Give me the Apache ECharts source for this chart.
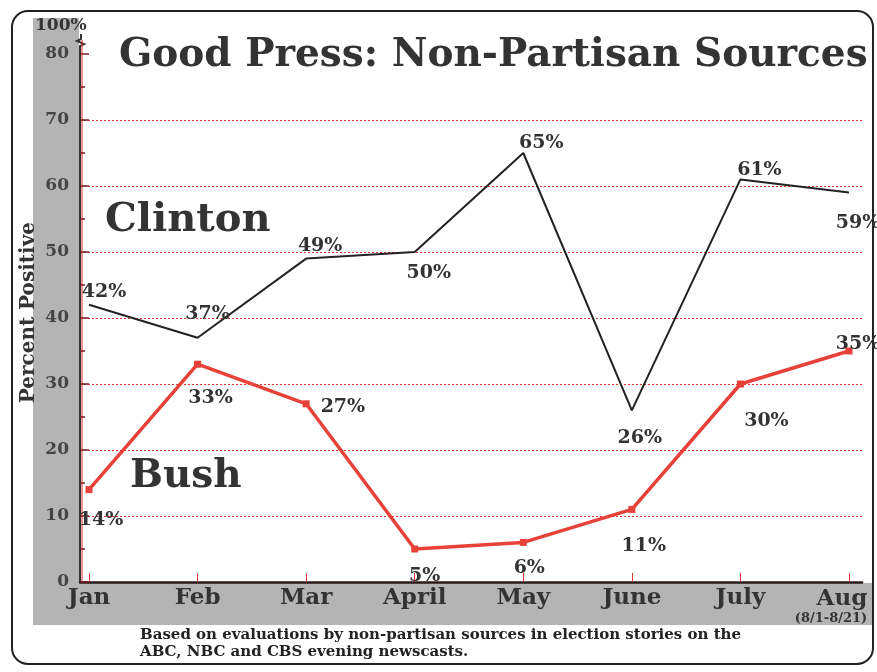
<!DOCTYPE html>
<html>
<head>
<meta charset="utf-8">
<script src="https://cdn.jsdelivr.net/npm/echarts@6/dist/echarts.min.js"></script>
<style>html,body{margin:0;padding:0;background:#fff;}#c{width:877px;height:672px;}</style>
</head>
<body>
<div id="c"></div>
<script>
var months = ['Jan', 'Feb', 'Mar', 'April', 'May', 'June', 'July', 'Aug'];
var clinton = [42, 37, 49, 50, 65, 26, 61, 59];
var bush = [14, 33, 27, 5, 6, 11, 30, 35];
var yTicks = [0, 10, 20, 30, 40, 50, 60, 70, 80];

var SERIF = '"DejaVu Serif", "Liberation Serif", serif';
var clintonLabel = [
  ['top', 15, 2], ['top', 10, -9], ['top', 14, 2], ['bottom', 14, 6],
  ['top', 18, 5], ['bottom', 8, 13], ['top', 19, 6], ['bottom', 9, 15]
];
var bushLabel = [
  ['bottom', 12, 12], ['bottom', 13, 16], ['right', 6, 3], ['bottom', 10, 9],
  ['bottom', 6, 8], ['bottom', 12, 19], ['bottom', 26, 19], ['top', 9, 11]
];
function mk(vals, pos) {
  return vals.map(function (v, i) {
    return {
      value: v,
      label: { position: pos[i][0], offset: [pos[i][1], pos[i][2]] }
    };
  });
}
var labelStyle = {
  show: true, formatter: '{c}%', fontFamily: SERIF, fontWeight: 'bold',
  fontSize: 19, color: '#333', distance: 5
};
var monthData = months.map(function (m, i) {
  return i === months.length - 1 ? { value: m, textStyle: { padding: [0, 36, 0, 0] } } : m;
});

var chart = echarts.init(document.getElementById('c'), null, { renderer: 'canvas' });
chart.setOption({
  animation: false,
  backgroundColor: '#fff',
  graphic: [
    { type: 'rect', z: -10, shape: { x: 12, y: 11, width: 861, height: 653, r: 16 },
      style: { fill: '#fff', stroke: '#222', lineWidth: 2 } },
    { type: 'rect', z: -5, shape: { x: 33, y: 18, width: 46, height: 607 },
      style: { fill: '#b4b4b4' } },
    { type: 'rect', z: -5, shape: { x: 33, y: 583, width: 839, height: 42 },
      style: { fill: '#b4b4b4' } },
    { type: 'text', left: 35, top: 17, style: { text: '100%', font: 'bold 17px ' + SERIF, fill: '#333' } },
    { type: 'polyline', shape: { points: [[80, 54], [80, 46], [84, 44], [77, 41], [81, 39], [81, 34]] },
      style: { stroke: '#333', lineWidth: 2, fill: null } },
    { type: 'line', shape: { x1: 82, y1: 582, x2: 82, y2: 40 }, style: { stroke: '#d33', lineWidth: 1 } },
    { type: 'text', left: 119, top: 36, style: { text: 'Good Press: Non-Partisan Sources', font: 'bold 39px ' + SERIF, fill: '#333' } },
    { type: 'text', left: 105, top: 201, style: { text: 'Clinton', font: 'bold 40px ' + SERIF, fill: '#333' } },
    { type: 'text', left: 130, top: 457, style: { text: 'Bush', font: 'bold 39px ' + SERIF, fill: '#333' } },
    { type: 'text', left: 19, top: 222, rotation: Math.PI / 2, style: { text: 'Percent Positive', font: 'bold 20px ' + SERIF, fill: '#333' } },
    { type: 'text', left: 140, top: 627, style: { text: 'Based on evaluations by non-partisan sources in election stories on the\nABC, NBC and CBS evening newscasts.', font: 'bold 15px ' + SERIF, fill: '#222', lineHeight: 17 } }
  ],
  grid: [
    { left: 80, right: 15, top: 54, bottom: 90 },
    { left: 89, right: 28, top: 54, bottom: 90 }
  ],
  xAxis: [
    { gridIndex: 0, type: 'value', min: 0, max: 1, axisLabel: { show: false }, axisTick: { show: false },
      splitLine: { show: false }, axisLine: { show: true, lineStyle: { color: '#2a1a1a', width: 2.5 } } },
    { gridIndex: 1, type: 'category', data: monthData, boundaryGap: false,
      axisLine: { show: false },
      axisTick: { show: true, inside: true, length: 9, interval: 0, lineStyle: { color: '#d33', width: 1 } },
      axisLabel: { interval: 0, fontFamily: SERIF, fontWeight: 'bold', fontSize: 23, color: '#333', margin: 5,
        formatter: function (v) { return v === 'Aug' ? '{a|Aug}\n{b|(8/1-8/21)}' : v; },
        rich: { a: { fontFamily: SERIF, fontWeight: 'bold', fontSize: 23, color: '#333', lineHeight: 24, align: 'right' },
                b: { fontFamily: SERIF, fontWeight: 'bold', fontSize: 13, color: '#333', lineHeight: 15, align: 'right' } } } }
  ],
  yAxis: [
    { gridIndex: 0, type: 'value', min: yTicks[0], max: yTicks[yTicks.length - 1], interval: 10,
      axisLine: { show: true, lineStyle: { color: '#333', width: 2 } },
      axisTick: { show: true, inside: true, length: 9, lineStyle: { color: '#7a1f1f', width: 1.5 } },
      minorTick: { show: true, splitNumber: 2, length: 5, lineStyle: { color: '#7a1f1f', width: 1.5 } },
      axisLabel: { fontFamily: SERIF, fontWeight: 'bold', fontSize: 17, color: '#444', margin: 11 },
      splitLine: { show: true, showMinLine: false, showMaxLine: false,
        lineStyle: { color: '#e33', type: [2, 2], width: 1 } } },
    { gridIndex: 1, type: 'value', min: 0, max: 80, show: false, splitLine: { show: false } }
  ],
  series: [
    { name: 'Clinton', type: 'line', xAxisIndex: 1, yAxisIndex: 1, data: mk(clinton, clintonLabel),
      symbol: 'circle', symbolSize: 1, showSymbol: true, itemStyle: { color: 'rgba(0,0,0,0)' },
      lineStyle: { color: '#222', width: 2 }, label: labelStyle },
    { name: 'Bush', type: 'line', xAxisIndex: 1, yAxisIndex: 1, data: mk(bush, bushLabel),
      symbol: 'rect', symbolSize: 7, itemStyle: { color: '#e8413a' },
      lineStyle: { color: '#e8413a', width: 3.5 }, label: labelStyle }
  ]
});
</script>
</body>
</html>
